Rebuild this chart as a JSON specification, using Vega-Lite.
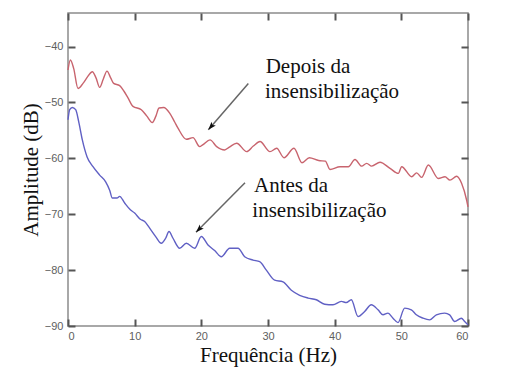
{
  "$schema": "https://vega.github.io/schema/vega-lite/v6.json",
  "width": 400,
  "height": 313,
  "autosize": {"type": "none"},
  "padding": {"left": 68, "top": 13, "right": 48, "bottom": 46},
  "background": "white",
  "config": {
    "view": {"stroke": "#8c8c8c", "strokeWidth": 1.5},
    "axis": {
      "domain": false, "offset": -7,
      "ticks": true, "tickColor": "#555555", "tickSize": 7, "tickWidth": 2, "tickOpacity": 1,
      "labelColor": "#606060", "labelFont": "Liberation Sans", "labelFontSize": 11,
      "grid": false, "zindex": 2,
      "titleFont": "Liberation Serif", "titleFontSize": 21, "titleFontWeight": "normal", "titleColor": "#111111"
    }
  },
  "datasets": {
    "curves": [
      {"f": 0, "a": -44.2, "s": "Depois"},
      {"f": 0.35, "a": -42.4, "s": "Depois"},
      {"f": 0.85, "a": -43.9, "s": "Depois"},
      {"f": 1.5, "a": -47.5, "s": "Depois"},
      {"f": 2.25, "a": -46.6, "s": "Depois"},
      {"f": 3.0, "a": -45.3, "s": "Depois"},
      {"f": 3.65, "a": -44.5, "s": "Depois"},
      {"f": 4.2, "a": -45.6, "s": "Depois"},
      {"f": 4.75, "a": -47.3, "s": "Depois"},
      {"f": 5.3, "a": -45.8, "s": "Depois"},
      {"f": 5.85, "a": -44.4, "s": "Depois"},
      {"f": 6.4, "a": -45.6, "s": "Depois"},
      {"f": 6.85, "a": -46.6, "s": "Depois"},
      {"f": 7.75, "a": -47.0, "s": "Depois"},
      {"f": 8.4, "a": -48.0, "s": "Depois"},
      {"f": 9.0, "a": -49.2, "s": "Depois"},
      {"f": 9.75, "a": -50.7, "s": "Depois"},
      {"f": 11.0, "a": -51.3, "s": "Depois"},
      {"f": 11.8, "a": -52.4, "s": "Depois"},
      {"f": 12.65, "a": -53.6, "s": "Depois"},
      {"f": 13.2, "a": -52.4, "s": "Depois"},
      {"f": 13.65, "a": -51.0, "s": "Depois"},
      {"f": 14.35, "a": -50.9, "s": "Depois"},
      {"f": 15.25, "a": -51.9, "s": "Depois"},
      {"f": 16.0, "a": -53.5, "s": "Depois"},
      {"f": 16.5, "a": -54.6, "s": "Depois"},
      {"f": 17.75, "a": -56.6, "s": "Depois"},
      {"f": 18.75, "a": -56.3, "s": "Depois"},
      {"f": 19.75, "a": -57.9, "s": "Depois"},
      {"f": 20.2, "a": -57.6, "s": "Depois"},
      {"f": 21.3, "a": -56.7, "s": "Depois"},
      {"f": 22.3, "a": -57.9, "s": "Depois"},
      {"f": 23.5, "a": -58.5, "s": "Depois"},
      {"f": 24.2, "a": -58.0, "s": "Depois"},
      {"f": 25.3, "a": -57.3, "s": "Depois"},
      {"f": 26.8, "a": -58.8, "s": "Depois"},
      {"f": 27.8, "a": -57.8, "s": "Depois"},
      {"f": 28.8, "a": -57.0, "s": "Depois"},
      {"f": 30.3, "a": -58.8, "s": "Depois"},
      {"f": 31.3, "a": -58.2, "s": "Depois"},
      {"f": 32.4, "a": -59.9, "s": "Depois"},
      {"f": 33.9, "a": -58.2, "s": "Depois"},
      {"f": 35.1, "a": -60.8, "s": "Depois"},
      {"f": 36.2, "a": -59.9, "s": "Depois"},
      {"f": 37.6, "a": -60.4, "s": "Depois"},
      {"f": 38.6, "a": -60.5, "s": "Depois"},
      {"f": 39.3, "a": -62.0, "s": "Depois"},
      {"f": 40.8, "a": -61.5, "s": "Depois"},
      {"f": 42.05, "a": -61.5, "s": "Depois"},
      {"f": 43.05, "a": -60.2, "s": "Depois"},
      {"f": 44.05, "a": -61.4, "s": "Depois"},
      {"f": 44.8, "a": -60.9, "s": "Depois"},
      {"f": 45.55, "a": -61.4, "s": "Depois"},
      {"f": 46.8, "a": -60.7, "s": "Depois"},
      {"f": 48.3, "a": -61.8, "s": "Depois"},
      {"f": 49.55, "a": -62.7, "s": "Depois"},
      {"f": 50.05, "a": -61.5, "s": "Depois"},
      {"f": 51.55, "a": -63.3, "s": "Depois"},
      {"f": 52.3, "a": -62.6, "s": "Depois"},
      {"f": 53.05, "a": -63.4, "s": "Depois"},
      {"f": 54.05, "a": -61.2, "s": "Depois"},
      {"f": 55.55, "a": -63.6, "s": "Depois"},
      {"f": 56.55, "a": -63.3, "s": "Depois"},
      {"f": 57.3, "a": -63.9, "s": "Depois"},
      {"f": 58.3, "a": -63.2, "s": "Depois"},
      {"f": 59.05, "a": -64.5, "s": "Depois"},
      {"f": 59.8, "a": -67.5, "s": "Depois"},
      {"f": 60, "a": -68.7, "s": "Depois"},
      {"f": 0, "a": -53.1, "s": "Antes"},
      {"f": 0.25, "a": -51.3, "s": "Antes"},
      {"f": 0.65, "a": -50.9, "s": "Antes"},
      {"f": 1.15, "a": -51.3, "s": "Antes"},
      {"f": 1.65, "a": -53.7, "s": "Antes"},
      {"f": 2.15, "a": -56.7, "s": "Antes"},
      {"f": 2.85, "a": -59.7, "s": "Antes"},
      {"f": 3.75, "a": -61.5, "s": "Antes"},
      {"f": 4.75, "a": -63.0, "s": "Antes"},
      {"f": 5.65, "a": -64.2, "s": "Antes"},
      {"f": 6.25, "a": -65.7, "s": "Antes"},
      {"f": 6.65, "a": -67.1, "s": "Antes"},
      {"f": 7.35, "a": -67.1, "s": "Antes"},
      {"f": 7.75, "a": -66.8, "s": "Antes"},
      {"f": 8.5, "a": -68.0, "s": "Antes"},
      {"f": 9.35, "a": -69.2, "s": "Antes"},
      {"f": 10.0, "a": -69.8, "s": "Antes"},
      {"f": 10.85, "a": -70.9, "s": "Antes"},
      {"f": 11.5, "a": -71.3, "s": "Antes"},
      {"f": 12.25, "a": -72.5, "s": "Antes"},
      {"f": 13.15, "a": -74.0, "s": "Antes"},
      {"f": 14.0, "a": -75.2, "s": "Antes"},
      {"f": 14.65, "a": -74.3, "s": "Antes"},
      {"f": 15.15, "a": -73.1, "s": "Antes"},
      {"f": 15.75, "a": -74.3, "s": "Antes"},
      {"f": 16.75, "a": -76.1, "s": "Antes"},
      {"f": 17.75, "a": -75.2, "s": "Antes"},
      {"f": 19.0, "a": -76.1, "s": "Antes"},
      {"f": 20.0, "a": -74.0, "s": "Antes"},
      {"f": 21.0, "a": -75.5, "s": "Antes"},
      {"f": 22.0, "a": -76.5, "s": "Antes"},
      {"f": 23.0, "a": -77.6, "s": "Antes"},
      {"f": 24.25, "a": -76.1, "s": "Antes"},
      {"f": 25.5, "a": -76.1, "s": "Antes"},
      {"f": 26.5, "a": -77.6, "s": "Antes"},
      {"f": 27.75, "a": -78.2, "s": "Antes"},
      {"f": 28.75, "a": -78.5, "s": "Antes"},
      {"f": 29.75, "a": -80.0, "s": "Antes"},
      {"f": 31.0, "a": -81.8, "s": "Antes"},
      {"f": 32.25, "a": -82.1, "s": "Antes"},
      {"f": 33.5, "a": -83.6, "s": "Antes"},
      {"f": 34.75, "a": -84.5, "s": "Antes"},
      {"f": 36.0, "a": -85.0, "s": "Antes"},
      {"f": 37.25, "a": -85.3, "s": "Antes"},
      {"f": 38.5, "a": -86.1, "s": "Antes"},
      {"f": 39.75, "a": -86.2, "s": "Antes"},
      {"f": 41.0, "a": -85.6, "s": "Antes"},
      {"f": 41.75, "a": -85.8, "s": "Antes"},
      {"f": 42.5, "a": -85.3, "s": "Antes"},
      {"f": 43.5, "a": -88.3, "s": "Antes"},
      {"f": 44.5, "a": -87.4, "s": "Antes"},
      {"f": 45.5, "a": -86.2, "s": "Antes"},
      {"f": 46.5, "a": -87.1, "s": "Antes"},
      {"f": 47.25, "a": -88.0, "s": "Antes"},
      {"f": 48.0, "a": -87.7, "s": "Antes"},
      {"f": 48.75, "a": -88.6, "s": "Antes"},
      {"f": 49.5, "a": -89.4, "s": "Antes"},
      {"f": 50.5, "a": -86.8, "s": "Antes"},
      {"f": 51.5, "a": -87.1, "s": "Antes"},
      {"f": 52.25, "a": -88.0, "s": "Antes"},
      {"f": 53.25, "a": -88.6, "s": "Antes"},
      {"f": 54.25, "a": -88.9, "s": "Antes"},
      {"f": 55.25, "a": -88.0, "s": "Antes"},
      {"f": 56.5, "a": -87.7, "s": "Antes"},
      {"f": 57.25, "a": -88.0, "s": "Antes"},
      {"f": 58.0, "a": -89.2, "s": "Antes"},
      {"f": 59.0, "a": -88.6, "s": "Antes"},
      {"f": 59.5, "a": -89.2, "s": "Antes"},
      {"f": 60.0, "a": -89.8, "s": "Antes"}
    ],
    "labels": [
      {"f": 29.65, "a": -44.74, "t": "Depois da"},
      {"f": 29.55, "a": -49.2, "t": "insensibilização"},
      {"f": 27.9, "a": -66.0, "t": "Antes da"},
      {"f": 27.65, "a": -70.45, "t": "insensibilização"}
    ],
    "arrows": [
      {"id": 1, "f": 27.05, "a": -46.6, "f2": 21.05, "a2": -54.9},
      {"id": 2, "f": 26.55, "a": -64.36, "f2": 19.2, "a2": -73.24}
    ]
  },
  "layer": [
    {
      "data": {"name": "curves"},
      "mark": {"type": "line", "strokeWidth": 1.4, "interpolate": "monotone"},
      "encoding": {
        "x": {"field": "f", "type": "quantitative", "scale": {"domain": [0, 60], "nice": false},
          "axis": {"title": "Frequência (Hz)", "values": [0, 10, 20, 30, 40, 50, 60], "labelPadding": 4, "titlePadding": 3}},
        "y": {"field": "a", "type": "quantitative", "scale": {"domain": [-90, -34], "nice": false, "zero": false},
          "axis": {"title": "Amplitude (dB)", "values": [-90, -80, -70, -60, -50, -40], "labelPadding": 5, "titlePadding": 3}},
        "color": {"field": "s", "type": "nominal", "scale": {"domain": ["Depois", "Antes"], "range": ["#c8646e", "#6060c4"]}, "legend": null}
      }
    },
    {
      "data": {"name": "arrows"},
      "mark": {"type": "rule", "color": "#666666", "strokeWidth": 1.5},
      "encoding": {
        "x": {"field": "f", "type": "quantitative", "axis": {"orient": "top", "labels": false, "title": null, "values": [0, 10, 20, 30, 40, 50, 60]}},
        "y": {"field": "a", "type": "quantitative", "axis": {"orient": "right", "labels": false, "title": null, "values": [-90, -80, -70, -60, -50, -40]}},
        "x2": {"field": "f2"},
        "y2": {"field": "a2"}
      }
    },
    {
      "data": {"name": "arrows"},
      "transform": [{"filter": "datum.id == 1"}],
      "mark": {"type": "point", "shape": "M0,0L-0.45,1.3L0,1.0L0.45,1.3Z", "filled": true, "color": "#111111", "opacity": 1, "size": 160, "angle": 220.5},
      "encoding": {
        "x": {"field": "f2", "type": "quantitative", "axis": null},
        "y": {"field": "a2", "type": "quantitative", "axis": null}
      }
    },
    {
      "data": {"name": "arrows"},
      "transform": [{"filter": "datum.id == 2"}],
      "mark": {"type": "point", "shape": "M0,0L-0.45,1.3L0,1.0L0.45,1.3Z", "filled": true, "color": "#111111", "opacity": 1, "size": 160, "angle": 224.6},
      "encoding": {
        "x": {"field": "f2", "type": "quantitative", "axis": null},
        "y": {"field": "a2", "type": "quantitative", "axis": null}
      }
    },
    {
      "data": {"name": "labels"},
      "mark": {"type": "text", "align": "left", "baseline": "alphabetic", "font": "Liberation Serif", "fontSize": 21, "color": "#111111"},
      "encoding": {
        "x": {"field": "f", "type": "quantitative", "axis": null},
        "y": {"field": "a", "type": "quantitative", "axis": null},
        "text": {"field": "t"}
      }
    }
  ],
  "resolve": {"axis": {"x": "independent", "y": "independent"}}
}
